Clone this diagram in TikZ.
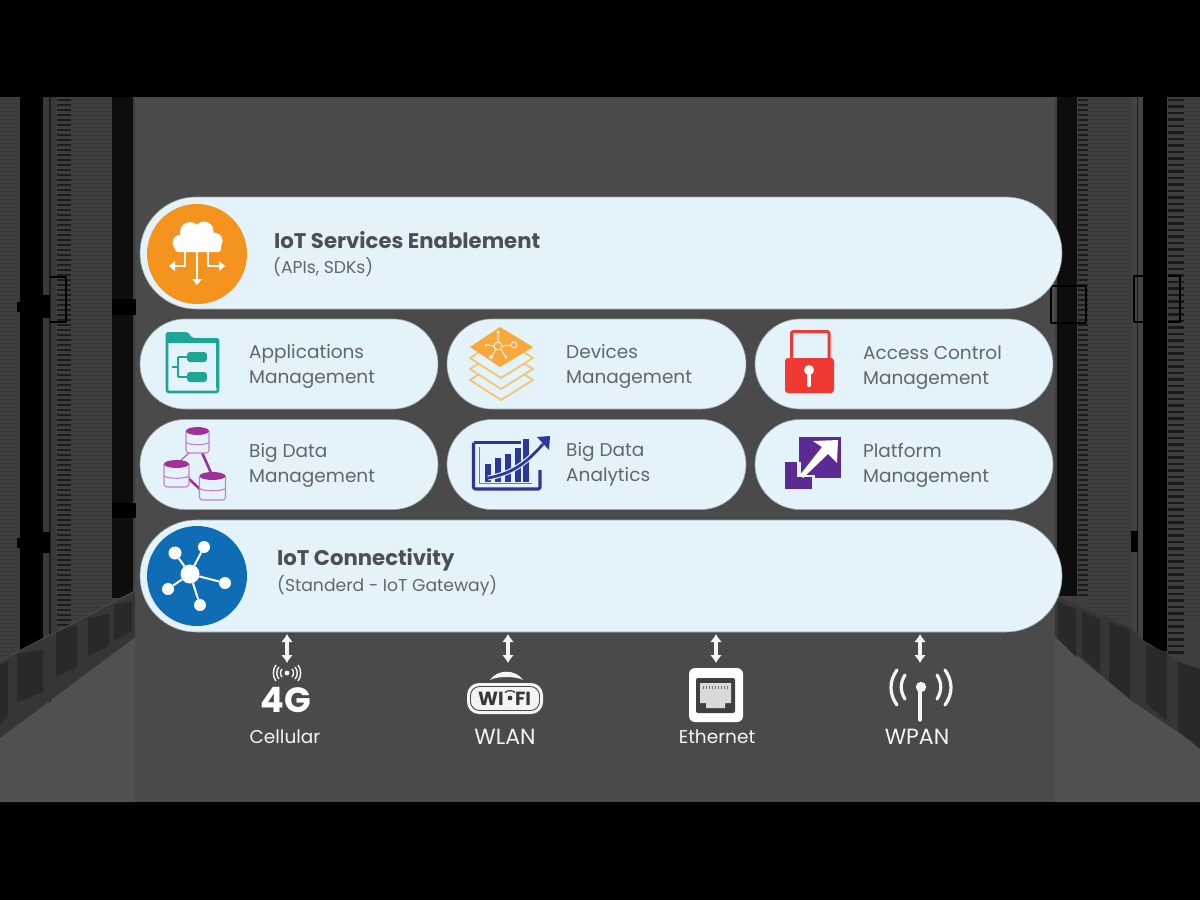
\documentclass[tikz,border=0pt]{standalone}
\usepackage{fontspec}
\setmainfont{Poppins}
\usetikzlibrary{arrows.meta}
\definecolor{bgmid}{HTML}{4A4A4A}
\definecolor{panelc}{HTML}{3E3E3E}
\definecolor{floorc}{HTML}{505050}
\definecolor{plinthc}{HTML}{363636}
\definecolor{pillc}{HTML}{E4F2F9}
\definecolor{pilledge}{HTML}{9BA3A8}
\definecolor{txtc}{HTML}{62676C}
\definecolor{titlec}{HTML}{4C4F54}
\definecolor{orangec}{HTML}{F4931E}
\definecolor{bluec}{HTML}{0F6DB5}
\definecolor{tealc}{HTML}{1DA595}
\definecolor{amberc}{HTML}{F9A93B}
\definecolor{amberl}{HTML}{F2C473}
\definecolor{navyc}{HTML}{2B379B}
\definecolor{redc}{HTML}{EE3A33}
\definecolor{plumc}{HTML}{5B2A92}
\definecolor{magc}{HTML}{A0309A}
\definecolor{magl}{HTML}{C77FC2}
\definecolor{whitec}{HTML}{F4F4F4}
\tikzset{
  pill/.style={fill=pillc,draw=pilledge,line width=0.6pt,inner sep=0pt,minimum width=#1},
  rowpill/.style={pill=298pt,minimum height=90pt,rounded corners=45pt},
  barpill/.style={pill=922pt,minimum height=112pt,rounded corners=56pt},
  label/.style={anchor=west,align=left,text=txtc,font=\fontsize{18.5}{25}\selectfont,inner sep=0pt},
  bartitle/.style={anchor=west,align=left,text=titlec,inner sep=0pt,font=\fontsize{21.2}{25}\selectfont\bfseries},
  barsub/.style={anchor=west,text=txtc,inner sep=0pt,font=\fontsize{17.2}{20}\selectfont},
  linklabel/.style={text=whitec,inner sep=0pt,font=\fontsize{18.5}{22}\selectfont},
  capslabel/.style={text=whitec,inner sep=0pt,font=\fontsize{22}{24}\selectfont},
  link/.style={draw=whitec,line width=3.2pt,{Latex[length=8pt,width=12pt]}-{Latex[length=8pt,width=12pt]}},
  blackline/.style={draw=black,line width=2.6pt},
  vent/.style={draw=#1,line width=2.6pt},
  badge/.style={circle,minimum size=100pt,inner sep=0pt},
  hub/.style={circle,fill=white,inner sep=0pt,minimum size=#1},
}
\begin{document}
\begin{tikzpicture}[x=1pt,y=-1pt,line join=round]
\useasboundingbox (0,0) rectangle (1200,900);
% ---------- backdrop ----------
\fill[black] (0,0) rectangle (1200,900);
\fill[bgmid] (0,97) rectangle (1200,802);
% left racks
\fill[panelc] (0,97) rectangle (135,660);
\foreach \yy in {99,103,...,655}{\draw[black!12!panelc,line width=0.6pt] (0,\yy) -- (20,\yy) (71,\yy) -- (112,\yy);}
\fill[floorc] (0,738) -- (135,637) -- (135,802) -- (0,802) -- cycle;
\fill[black] (20,97) rectangle (43,650);
\fill[black!95!white] (112,97) rectangle (133,598);
\fill[black!25!bgmid] (43,97) -- (56,97) -- (56,640) -- (43,645) -- cycle;
\draw[black!60!bgmid,line width=1.2pt] (50,97) -- (50,702);
\foreach \yy in {100,105,...,625}{\draw[vent=black!55!panelc] (57,\yy) -- (71,\yy);}
\fill[plinthc] (0,661) -- (135,591) -- (135,637) -- (0,738) -- cycle;
\foreach \xa/\xb/\ya/\yb in {0/8/665/725,17/43/654/702,56/77/630/677,88/109/618/656,114/132/605/641}{
  \fill[black!25!plinthc] (\xa,\ya) -- (\xb,\ya-4) -- (\xb,\yb-10) -- (\xa,\yb) -- cycle;}
\draw[black!10!floorc,line width=1.2pt] (0,661) -- (135,591);
% left hardware
\fill[black] (112,299) rectangle (136,315);
\fill[black] (112,503) rectangle (136,518);
\fill[black] (17,302) rectangle (50,312);
\fill[black] (17,538) rectangle (50,548);
\fill[black] (42,532) rectangle (50,553);
\fill[black] (42,295) rectangle (50,318);
\draw[blackline] (50,277) -- (66,277) -- (66,322) -- (50,322);
% right racks
\fill[panelc] (1055,97) rectangle (1200,747);
\foreach \yy in {99,103,...,620}{\draw[black!12!panelc,line width=0.6pt] (1088,\yy) -- (1132,\yy) (1184,\yy) -- (1200,\yy);}
\fill[floorc] (1055,637) -- (1200,747) -- (1200,802) -- (1055,802) -- cycle;
\fill[black!95!white] (1057,97) rectangle (1077,596);
\fill[black] (1143,97) rectangle (1167,651);
\fill[black!10!bgmid] (1132,97) rectangle (1143,700);
\draw[black!60!bgmid,line width=1pt] (1137,97) -- (1137,700);
\foreach \yy in {100,105,...,595}{\draw[vent=black!55!panelc] (1078,\yy) -- (1088,\yy);}
\foreach \yy in {100,106.5,...,655}{\draw[vent=black!60!panelc] (1168,\yy) -- (1184,\yy);}
\fill[plinthc] (1055,596) -- (1132,628) -- (1143,640) -- (1200,674) -- (1200,747) -- (1132,701) -- (1055,637) -- cycle;
\foreach \xa/\xb/\ya/\yb in {1058/1076/602/648,1082/1100/612/665,1109/1130/622/690,1146/1167/645/712,1178/1200/662/740}{
  \fill[black!25!plinthc] (\xa,\ya) -- (\xb,\ya+7) -- (\xb,\yb+9) -- (\xa,\yb-9) -- cycle;}
% right hardware
\draw[blackline] (1051,286) rectangle (1086,323);
\draw[blackline] (1146,276) -- (1134,276) -- (1134,322) -- (1146,322);
\draw[blackline] (1168,276) -- (1180,276) -- (1180,322) -- (1168,322);
\fill[black] (1131,531) rectangle (1138,552);
% ---------- main pills ----------
\node[barpill] (services) at (601,253) {};
\node[rowpill] (apps) at (289,364) {};
\node[rowpill,minimum width=299pt] (devices) at (596.5,364) {};
\node[rowpill] (access) at (904,364) {};
\node[rowpill] (bigdata) at (289,464.5) {};
\node[rowpill,minimum width=299pt] (analytics) at (596.5,464.5) {};
\node[rowpill] (platform) at (904,464.5) {};
\node[barpill] (conn) at (601,576) {};
% ---------- texts ----------
\node[bartitle] (t1) at (274,240) {IoT Services Enablement};
\node[barsub] (t1s) at (273,267) {(APIs, SDKs)};
\node[label] (t2) at (249,366.5) {Applications\\Management};
\node[label] (t3) at (566,366.5) {Devices\\Management};
\node[label] (t4) at (863,367.5) {Access Control\\Management};
\node[label] (t5) at (249,465.5) {Big Data\\Management};
\node[label] (t6) at (566,464) {Big Data\\Analytics};
\node[label] (t7) at (863,465.5) {Platform\\Management};
\node[bartitle] (t8) at (277,560) {IoT Connectivity};
\node[barsub] (t8s) at (277,586) {(Standerd - IoT Gateway)};
% ---------- orange badge: cloud ----------
\node[badge,fill=orangec] (orangebadge) at (197,254) {};
\fill[white] (181,243) circle (8.5) (190,232) circle (10) (204,231) circle (9.5) (214,241) circle (8.5);
\fill[white,rounded corners=3pt] (175,236) rectangle (221,252);
\draw[white,line width=2pt] (197,250) -- (197,280);
\fill[white] (192,279) -- (202,279) -- (197,285) -- cycle;
\draw[white,line width=2pt] (185,250) -- (185,266) -- (174,266);
\fill[white] (175,261) -- (175,271) -- (169,266) -- cycle;
\draw[white,line width=2pt] (208,250) -- (208,266) -- (220,266);
\fill[white] (219,261) -- (219,271) -- (225,266) -- cycle;
% ---------- applications icon ----------
\begin{scope}[draw=tealc,line width=2pt]
\fill[tealc,rounded corners=2pt] (166,332) -- (188,332) -- (192,338) -- (219,338) -- (219,343) -- (166,343) -- cycle;
\draw[line width=2.6pt,rounded corners=2pt] (167,334) -- (167,392) -- (218,392) -- (218,340);
\draw[line width=3.4pt] (217.5,342) -- (217.5,388);
\draw (172,367) -- (178,367) (178,357) -- (178,377) (178,357) -- (188,357) (178,377) -- (188,377);
\end{scope}
\fill[tealc,rounded corners=3pt] (187,352) rectangle (207,362);
\fill[tealc,rounded corners=3pt] (187,372) rectangle (207,382);
% ---------- devices icon ----------
\foreach \dy in {33,22,11}{
  \draw[amberl,line width=1.8pt,fill=pillc] (501,327+\dy) -- (533,347+\dy) -- (501,367+\dy) -- (470,347+\dy) -- cycle;}
\fill[amberc] (500,327) -- (533,347) -- (500,367) -- (470,347) -- cycle;
\begin{scope}[draw=pillc,line width=1pt]
\draw (498,346) circle (4);
\draw (498,342) -- (498,333) (502,346) -- (511,345) (494,346) -- (487,345) (496,349) -- (492,356) (501,349) -- (505,356);
\draw (514,345) circle (3);
\end{scope}
\fill[pillc] (498,332) circle (1.5) (486,345) circle (1.5) (491,357) circle (2) (506,357) circle (1.5);
% ---------- big data icon ----------
\draw[magc,line width=2.6pt] (200,448) -- (212,475) (188,478) -- (203,492);
\draw[magc!70!white,line width=1.4pt] (190,452) -- (178,463);
\foreach \cx/\ctop/\chalf/\cht in {197.5/431/11.5/22, 176.5/464/12.5/23, 212.5/476/13/24}{
  \fill[pillc] (\cx-\chalf,\ctop) rectangle (\cx+\chalf,\ctop+\cht);
  \draw[magl,line width=1.1pt,rounded corners=3pt] (\cx-\chalf,\ctop) -- (\cx-\chalf,\ctop+\cht) -- (\cx+\chalf,\ctop+\cht) -- (\cx+\chalf,\ctop);
  \draw[magl,line width=1.1pt] (\cx-\chalf,\ctop+\cht*0.52) .. controls (\cx-\chalf+3,\ctop+\cht*0.52+3) and (\cx+\chalf-3,\ctop+\cht*0.52+3) .. (\cx+\chalf,\ctop+\cht*0.52);
  \fill[magc] (\cx,\ctop) ellipse (\chalf pt and 4pt);
}
% ---------- analytics icon ----------
\draw[navyc,line width=3.2pt,rounded corners=2pt] (473.5,442.5) -- (473.5,489) -- (540,489) -- (540,470);
\draw[navyc,line width=3pt] (473.5,442.5) -- (521,442.5);
\draw[navyc!65!pillc,line width=0.9pt] (479,447) -- (479,483) -- (532,483);
\foreach \bx/\bt in {488/464,498/458,508/454,517.5/448,526/439}{
  \fill[navyc] (\bx-3,\bt) rectangle (\bx+3,482);}
\draw[pillc,line width=5pt] (488,478) .. controls (510,474) and (525,465) .. (545,442);
\draw[navyc,line width=2.8pt] (488,478) .. controls (510,474) and (525,465) .. (543,444);
\fill[navyc] (537,437) -- (550,436) -- (549,450) -- cycle;
% ---------- lock icon ----------
\draw[redc,line width=3pt,rounded corners=2pt] (791.5,358) -- (791.5,331.5) -- (829,331.5) -- (829,358);
\fill[redc,rounded corners=3pt] (785,358) rectangle (834,393);
\fill[white] (809,370) circle (5);
\draw[white,line width=4.5pt,line cap=round] (809,372) -- (809,385);
% ---------- platform icon ----------
\fill[plumc] (799,437) rectangle (841,478);
\fill[pillc] (796,462) rectangle (801,480);
\fill[pillc] (796,475) -- (815,475) -- (815,482) -- (796,482) -- cycle;
\fill[plumc] (785,462) rectangle (797,489);
\fill[plumc] (785,477) rectangle (812,489);
\fill[white] (838,440) -- (837,463) -- (828,454) -- (803,478) -- (800,475) -- (822,447) -- (813,441) -- cycle;
% ---------- blue badge: network ----------
\node[badge,fill=bluec] (bluebadge) at (197,576) {};
\node[hub=19pt] (ncore) at (190,574) {};
\node[hub=13pt] (n1) at (175,553) {};
\node[hub=12pt] (n2) at (204,547) {};
\node[hub=12pt] (n3) at (225,583) {};
\node[hub=12pt] (n4) at (200,605) {};
\node[hub=12pt] (n5) at (168,589) {};
\foreach \nn in {n1,n2,n3,n4,n5}{\draw[white,line width=2pt] (ncore) -- (\nn);}
% ---------- bottom links ----------
\coordinate (c1) at (287,634);
\coordinate (c2) at (508,634);
\coordinate (c3) at (716,634);
\coordinate (c4) at (920,634);
\coordinate (e1) at (287,663);
\coordinate (e2) at (508,663);
\coordinate (e3) at (716,663);
\coordinate (e4) at (920,663);
\draw[link] (c1) -- (e1);
\draw[link] (c2) -- (e2);
\draw[link] (c3) -- (e3);
\draw[link] (c4) -- (e4);
% 4G
\fill[whitec] (287,673) circle (2.4);
\begin{scope}[draw=whitec,line width=1.4pt]
\foreach \ss in {1,-1}{
  \draw (287+\ss*5,669) .. controls (287+\ss*7,671) and (287+\ss*7,675) .. (287+\ss*5,677);
  \draw (287+\ss*8,667) .. controls (287+\ss*11,670) and (287+\ss*11,676) .. (287+\ss*8,679);
  \draw (287+\ss*11,665) .. controls (287+\ss*14.5,669) and (287+\ss*14.5,677) .. (287+\ss*11,681);
}
\end{scope}
\node[inner sep=0pt,text=white,font=\fontsize{35}{38}\selectfont\bfseries] (fourg) at (286,700) {4G};
\node[linklabel] (l1) at (285,737) {Cellular};
% WiFi
\fill[whitec] (490,680) .. controls (497,669) and (516,669) .. (523,680) .. controls (516,676) and (497,676) .. (490,680) -- cycle;
\node[draw=none,fill=whitec,rounded corners=12pt,minimum width=76pt,minimum height=31pt,inner sep=0pt] (wifibox) at (505,698.5) {};
\draw[bgmid,line width=0.9pt,rounded corners=9pt] (470.5,686.5) rectangle (539.5,710.5);
\node[inner sep=0pt,text=black!78!white,font=\fontsize{19}{20}\selectfont\bfseries] (wifia) at (491,699) {WI};
\node[inner sep=0pt,text=black!78!white,font=\fontsize{19}{20}\selectfont\bfseries] (wifib) at (523,699) {FI};
\fill[black!78!white] (510,698) circle (2.4);
\draw[black!78!white,line width=1.2pt] (505,692.5) .. controls (508,690) and (512,690) .. (515,692.5);
\node[capslabel] (l2) at (505,737) {WLAN};
% Ethernet
\node[draw=none,fill=white,rounded corners=6pt,minimum width=54pt,minimum height=54pt,inner sep=0pt] (rj) at (716,695) {};
\fill[bgmid!85!black,rounded corners=2pt] (696,678) rectangle (735,713);
\fill[black!15!white] (700,683) -- (731,683) -- (731,703) -- (725,703) -- (725,708) -- (706,708) -- (706,703) -- (700,703) -- cycle;
\foreach \tx in {703,706,...,728}{\draw[black!55!white,line width=1pt] (\tx,686) -- (\tx,689);}
\node[linklabel] (l3) at (717,737) {Ethernet};
% WPAN
\fill[whitec] (921,687) circle (5.2);
\draw[whitec,line width=3.4pt,line cap=round] (920,690) -- (920,720);
\begin{scope}[draw=whitec,line width=3.2pt,line cap=round]
\foreach \ss in {1,-1}{
  \draw (921+\ss*16,675) .. controls (921+\ss*21,683) and (921+\ss*21,691) .. (921+\ss*16,699);
  \draw (921+\ss*24,670) .. controls (921+\ss*32,681) and (921+\ss*32,694) .. (921+\ss*24,705);
}
\end{scope}
\node[capslabel] (l4) at (917,737) {WPAN};
\end{tikzpicture}
\end{document}
